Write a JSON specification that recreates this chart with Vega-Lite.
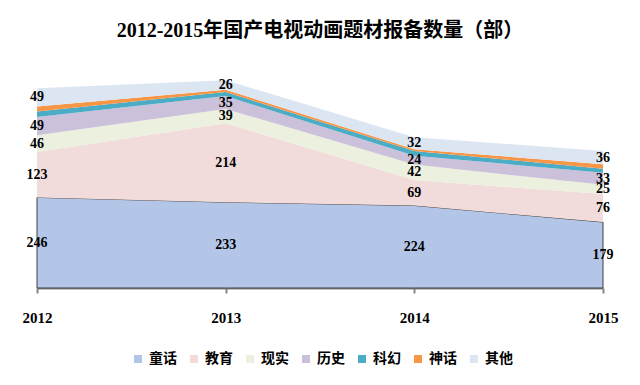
{
  "$schema": "https://vega.github.io/schema/vega-lite/v6.json",
  "width": 566,
  "height": 221,
  "autosize": {"type": "none"},
  "padding": {"left": 37, "right": 37, "top": 67, "bottom": 97},
  "background": "white",
  "title": {
    "text": "2012-2015年国产电视动画题材报备数量（部）",
    "font": "Liberation Serif, Noto Sans CJK SC",
    "fontSize": 20,
    "fontWeight": "bold",
    "color": "#000000",
    "anchor": "middle",
    "frame": "group",
    "offset": 26
  },
  "data": {
    "values": [
      {"year": "2012", "series": "童话", "k": 1, "value": 246},
      {"year": "2012", "series": "教育", "k": 2, "value": 123},
      {"year": "2012", "series": "现实", "k": 3, "value": 46},
      {"year": "2012", "series": "历史", "k": 4, "value": 49},
      {"year": "2012", "series": "科幻", "k": 5, "value": 15},
      {"year": "2012", "series": "神话", "k": 6, "value": 14},
      {"year": "2012", "series": "其他", "k": 7, "value": 49},
      {"year": "2013", "series": "童话", "k": 1, "value": 233},
      {"year": "2013", "series": "教育", "k": 2, "value": 214},
      {"year": "2013", "series": "现实", "k": 3, "value": 39},
      {"year": "2013", "series": "历史", "k": 4, "value": 35},
      {"year": "2013", "series": "科幻", "k": 5, "value": 11},
      {"year": "2013", "series": "神话", "k": 6, "value": 6},
      {"year": "2013", "series": "其他", "k": 7, "value": 26},
      {"year": "2014", "series": "童话", "k": 1, "value": 224},
      {"year": "2014", "series": "教育", "k": 2, "value": 69},
      {"year": "2014", "series": "现实", "k": 3, "value": 42},
      {"year": "2014", "series": "历史", "k": 4, "value": 24},
      {"year": "2014", "series": "科幻", "k": 5, "value": 13},
      {"year": "2014", "series": "神话", "k": 6, "value": 5},
      {"year": "2014", "series": "其他", "k": 7, "value": 32},
      {"year": "2015", "series": "童话", "k": 1, "value": 179},
      {"year": "2015", "series": "教育", "k": 2, "value": 76},
      {"year": "2015", "series": "现实", "k": 3, "value": 25},
      {"year": "2015", "series": "历史", "k": 4, "value": 33},
      {"year": "2015", "series": "科幻", "k": 5, "value": 11},
      {"year": "2015", "series": "神话", "k": 6, "value": 12},
      {"year": "2015", "series": "其他", "k": 7, "value": 36}
    ]
  },
  "transform": [
    {"stack": "value", "groupby": ["year"], "sort": [{"field": "k", "order": "ascending"}], "as": ["y0", "y1"]},
    {"calculate": "(datum.y0 + datum.y1) / 2", "as": "ymid"}
  ],
  "encoding": {
    "x": {
      "field": "year",
      "type": "ordinal",
      "scale": {"type": "point", "padding": 0},
      "axis": {
        "title": null,
        "labelAngle": 0,
        "labelFont": "Liberation Serif",
        "labelFontWeight": "bold",
        "labelFontSize": 15,
        "labelColor": "#000000",
        "labelPadding": 17,
        "domainColor": "#868686",
        "domainWidth": 2,
        "tickColor": "#868686",
        "tickWidth": 2,
        "tickSize": 5,
        "grid": false
      }
    }
  },
  "layer": [
    {
      "mark": {"type": "area", "strokeWidth": 1, "strokeJoin": "miter"},
      "encoding": {
        "y": {"field": "y1", "type": "quantitative", "scale": {"domain": [0, 600]}, "axis": null},
        "y2": {"field": "y0"},
        "color": {
          "field": "series",
          "type": "nominal",
          "sort": ["童话", "教育", "现实", "历史", "科幻", "神话", "其他"],
          "scale": {
            "domain": ["童话", "教育", "现实", "历史", "科幻", "神话", "其他"],
            "range": ["#B4C6E7", "#F2DCDB", "#EBF1DE", "#CCC1DA", "#4BACC6", "#F79646", "#DCE6F2"]
          },
          "legend": {
            "title": null,
            "orient": "none",
            "direction": "horizontal",
            "legendX": 94,
            "legendY": 285,
            "columns": 7,
            "symbolType": "square",
            "symbolSize": 64,
            "symbolStrokeWidth": 0,
            "labelFont": "Noto Sans CJK SC",
            "labelFontWeight": "bold",
            "labelFontSize": 14,
            "labelColor": "#000000",
            "columnPadding": 10,
            "labelOffset": 4,
            "encode": {
              "symbols": {
                "update": {
                  "stroke": {"signal": "datum.value === '童话' ? '#404040' : null"},
                  "strokeWidth": {"value": 1}
                }
              }
            }
          }
        },
        "stroke": {
          "condition": {"test": "datum.series === '童话'", "value": "#404040"},
          "value": null
        }
      }
    },
    {
      "transform": [{"filter": "datum.series !== '科幻' && datum.series !== '神话'"}],
      "mark": {
        "type": "text",
        "font": "Liberation Serif",
        "fontWeight": "bold",
        "fontSize": 14,
        "color": "#000000",
        "baseline": "middle",
        "align": "center"
      },
      "encoding": {
        "y": {"field": "ymid", "type": "quantitative"},
        "text": {"field": "value", "type": "quantitative"}
      }
    }
  ],
  "config": {
    "view": {"stroke": null}
  }
}
